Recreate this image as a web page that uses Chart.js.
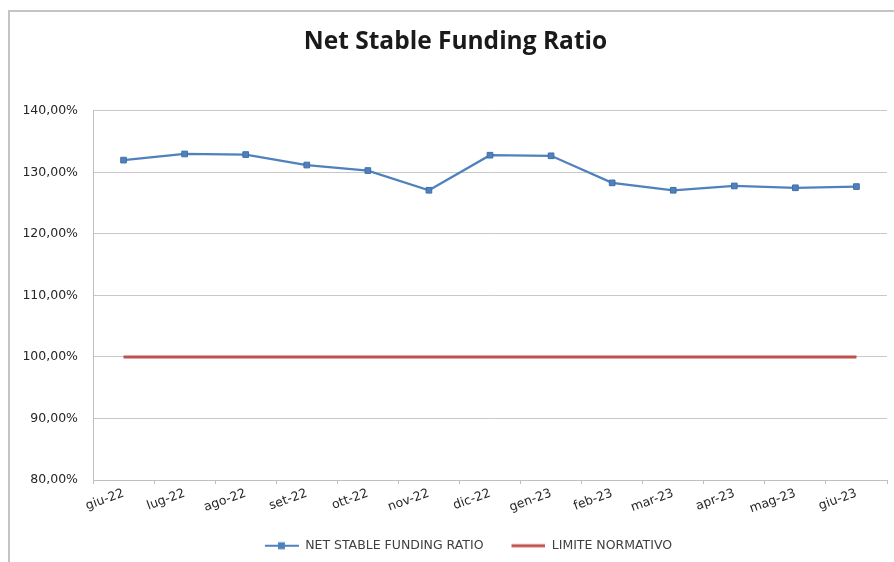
<!DOCTYPE html>
<html>
<head>
<meta charset="utf-8">
<script src="https://cdn.jsdelivr.net/npm/chart.js@4.4.1/dist/chart.umd.min.js"></script>
<style>
  html, body { margin: 0; padding: 0; background: #ffffff; }
  #wrap { position: relative; width: 894px; height: 562px; overflow: hidden; }
  #frame { position: absolute; left: 8px; top: 10px; width: 920px; height: 600px;
           border-left: 2px solid #c4c4c4; border-top: 2px solid #c4c4c4; }
  #chart { position: absolute; left: 0; top: 0; }
</style>
</head>
<body>
<div id="wrap">
  <div id="frame"></div>
  <canvas id="chart" width="894" height="562"></canvas>
</div>
<script>
// Months from June 2022 to June 2023
const months = ['giu-22', 'lug-22', 'ago-22', 'set-22', 'ott-22', 'nov-22', 'dic-22',
                'gen-23', 'feb-23', 'mar-23', 'apr-23', 'mag-23', 'giu-23'];

// Net Stable Funding Ratio, percent
const nsfr = [132.0, 133.0, 132.9, 131.2, 130.3, 127.1, 132.8,
              132.7, 128.3, 127.1, 127.8, 127.5, 127.7];

// Regulatory floor, percent
const limite = [100, 100, 100, 100, 100, 100, 100, 100, 100, 100, 100, 100, 100];

// Axis range and step
const yTicks = { min: 80, max: 140, step: 10 };

const blue = '#4f81bd';
const red = '#c0504d';
const titleFont = '"Open Sans", "Liberation Sans", sans-serif';
const font = '"DejaVu Sans", "Liberation Sans", sans-serif';

// Legend swatch: blank lead-in (spacing between entries), then a line,
// optionally with a square marker in its middle
const SW_LEAD = 26, SW_LINE = 34;
function swatch(color, withMarker) {
  const c = document.createElement('canvas');
  c.width = SW_LEAD + SW_LINE; c.height = 10;
  const g = c.getContext('2d');
  g.strokeStyle = color;
  g.lineWidth = withMarker ? 2 : 3;
  g.beginPath(); g.moveTo(SW_LEAD, 5); g.lineTo(SW_LEAD + SW_LINE, 5); g.stroke();
  if (withMarker) { g.fillStyle = color; g.fillRect(SW_LEAD + 13, 1.5, 7, 7); }
  return c;
}

const fmt = v => v.toFixed(2).replace('.', ',') + '%';

new Chart(document.getElementById('chart'), {
  type: 'line',
  data: {
    labels: months,
    datasets: [
      {
        label: 'NET STABLE FUNDING RATIO',
        data: nsfr,
        borderColor: blue,
        backgroundColor: blue,
        borderWidth: 2.25,
        pointStyle: 'rect',
        pointRadius: 4,
        pointBackgroundColor: blue,
        pointBorderColor: '#3f6ea6',
        pointBorderWidth: 1,
        tension: 0
      },
      {
        label: 'LIMITE NORMATIVO',
        data: limite,
        borderColor: red,
        backgroundColor: red,
        borderWidth: 3,
        pointRadius: 0,
        tension: 0
      }
    ]
  },
  options: {
    responsive: false,
    animation: false,
    events: [],
    layout: { padding: { left: 24, right: 7, top: 0, bottom: 0 } },
    plugins: {
      title: {
        display: true,
        text: 'Net Stable Funding Ratio',
        color: '#1a1a1a',
        font: { family: titleFont, size: 24.5, weight: 'bold' },
        padding: { top: 27, bottom: 54.5 }
      },
      legend: {
        position: 'bottom',
        labels: {
          color: '#404040',
          font: { family: font, size: 12.5 },
          usePointStyle: true,
          pointStyleWidth: SW_LEAD + SW_LINE,
          boxHeight: 10,
          padding: 2,
          generateLabels: chart => chart.data.datasets.map((ds, i) => ({
            text: ds.label,
            pointStyle: swatch(ds.borderColor, i === 0),
            fillStyle: ds.borderColor,
            strokeStyle: ds.borderColor,
            lineWidth: 0,
            datasetIndex: i,
            hidden: false,
            fontColor: '#404040'
          }))
        }
      },
      tooltip: { enabled: false }
    },
    scales: {
      x: {
        offset: true,
        afterFit: s => { s.height = 57.5; },
        grid: { display: true, drawOnChartArea: false, drawTicks: true, tickLength: 4,
                offset: true, color: '#bfbfbf' },
        border: { color: '#bfbfbf', width: 1 },
        ticks: {
          color: '#262626',
          font: { family: font, size: 12.5 },
          maxRotation: 20, minRotation: 20,
          padding: 2,
          autoSkip: false
        }
      },
      y: {
        min: yTicks.min,
        max: yTicks.max,
        afterFit: s => { s.width = 69; },
        grid: { color: '#c8c8c8', drawTicks: false, lineWidth: 1 },
        border: { color: '#bfbfbf', width: 1 },
        ticks: {
          stepSize: yTicks.step,
          color: '#262626',
          font: { family: font, size: 12.5 },
          padding: 15,
          callback: v => fmt(v)
        }
      }
    }
  }
});
</script>
</body>
</html>
